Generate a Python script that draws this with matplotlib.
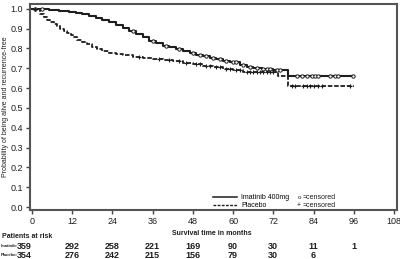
import numpy as np
import matplotlib
matplotlib.use("Agg")
import matplotlib.pyplot as plt
from matplotlib.lines import Line2D

plt.rcParams["font.family"] = ["Liberation Sans", "DejaVu Sans"]

# Kaplan-Meier steps (months, survival)
ima_t = [0, 2, 5, 8, 11, 13, 15, 17, 19, 21, 23, 25, 27, 29, 31, 33, 35, 37,
         39, 41, 43, 45, 47, 49, 51, 53, 55, 57, 59, 62, 64, 66, 68.5, 72, 76.5]
ima_s = [1.0, 0.997, 0.993, 0.99, 0.986, 0.98, 0.973, 0.965, 0.955, 0.945,
         0.932, 0.918, 0.905, 0.89, 0.872, 0.856, 0.84, 0.826, 0.815, 0.805,
         0.795, 0.786, 0.777, 0.768, 0.76, 0.752, 0.745, 0.738, 0.73, 0.716,
         0.709, 0.704, 0.697, 0.69, 0.663]
ima_end = 96

pla_t = [0, 2.3, 3.5, 4.5, 5.5, 6.5, 7.5, 8.5, 9.5, 10.5, 11.5, 12.5, 13.5, 15,
         16.5, 18, 19.5, 21, 23, 25, 27, 30, 33, 36, 39, 42, 45, 48, 51, 54,
         57, 60, 63, 73.5, 76.5]
pla_s = [1.0, 0.975, 0.958, 0.945, 0.935, 0.925, 0.912, 0.9, 0.89, 0.878,
         0.868, 0.858, 0.845, 0.835, 0.822, 0.808, 0.795, 0.785, 0.778, 0.772,
         0.766, 0.758, 0.75, 0.745, 0.74, 0.735, 0.728, 0.72, 0.712, 0.705,
         0.698, 0.692, 0.683, 0.66, 0.613]
pla_end = 96

# censoring times
ima_cens = [1, 3, 30, 36, 40, 44, 48, 50, 52, 54, 56, 58, 60, 61, 63, 65, 67,
            69, 70, 71, 73, 74, 79, 80.7, 82, 83.6, 84.5, 85.4, 89, 90.5, 91.4, 95.8]
pla_cens = [1, 32, 38, 41, 44, 46, 49, 50, 52, 53, 55, 56, 58, 59, 61, 62, 64,
            65, 66, 67, 68, 69, 70, 71, 72, 77.7, 78.6, 81, 82, 83, 84, 85.4,
            86.6, 95]

x_ticks = [0, 12, 24, 36, 48, 60, 72, 84, 96, 108]
y_ticks = [0.0, 0.1, 0.2, 0.3, 0.4, 0.5, 0.6, 0.7, 0.8, 0.9, 1.0]

risk_months = [0, 12, 24, 36, 48, 60, 72, 84, 96]
risk_ima = [359, 292, 258, 221, 169, 90, 30, 11, 1]
risk_pla = [354, 276, 242, 215, 156, 79, 30, 6]


def step_value(times, surv, t):
    i = np.searchsorted(times, t, side="right") - 1
    return surv[i]


fig = plt.figure(figsize=(4.0, 2.59), dpi=100)
ax = fig.add_axes([0.075, 0.189, 0.9175, 0.796])

ink = "#1e1e1e"

ax.step(ima_t + [ima_end], ima_s + [ima_s[-1]], where="post",
        color=ink, lw=1.5)
ax.step(pla_t + [pla_end], pla_s + [pla_s[-1]], where="post",
        color=ink, lw=1.3, ls=(0, (2.5, 1.0)))

ima_cy = [step_value(ima_t, ima_s, t) for t in ima_cens]
pla_cy = [step_value(pla_t, pla_s, t) for t in pla_cens]
ax.plot(ima_cens, ima_cy, ls="none", marker="o", ms=2.4, mfc="white",
        mec=ink, mew=0.7)
ax.plot(pla_cens, pla_cy, ls="none", marker="+", ms=3, mec=ink, mew=0.8)

ax.set_xlim(-0.6, 108.9)
ax.set_ylim(-0.015, 1.025)
ax.set_xticks(x_ticks)
ax.set_yticks(y_ticks)
ax.set_yticklabels([f"{v:.1f}" for v in y_ticks])
ax.tick_params(labelsize=6.5, length=3, width=1, color="#444444",
               labelcolor=ink, pad=2)
for sp in ax.spines.values():
    sp.set_color("#555555")
    sp.set_linewidth(1.5)

ax.set_ylabel("Probability of being alive and recurrence-free", fontsize=5,
              color=ink)
ax.yaxis.set_label_coords(-0.058, 0.5)

# legend
h1 = Line2D([], [], color=ink, lw=1.1)
h2 = Line2D([], [], color=ink, lw=1.0, ls=(0, (2, 1)))
fig.legend([h1, h2], ["Imatinib 400mg", "Placebo"], fontsize=5,
           frameon=False, handlelength=3.4, handletextpad=0.6,
           labelspacing=0.15, loc="upper left",
           bbox_to_anchor=(0.525, 0.263), borderpad=0)
fig.text(0.748, 0.236, "o", fontsize=4.5, color=ink, va="center", ha="center")
fig.text(0.748, 0.205, "+", fontsize=5, color=ink, va="center", ha="center")
fig.text(0.757, 0.238, "=censored", fontsize=5, color=ink, va="center")
fig.text(0.757, 0.207, "=censored", fontsize=5, color=ink, va="center")

# x title and risk table
fig.text(0.53, 0.100, "Survival time in months", fontsize=5, color=ink,
         ha="center", va="center", weight="bold")
fig.text(0.005, 0.088, "Patients at risk", fontsize=5, color=ink,
         va="center", weight="bold")
fig.text(0.002, 0.050, "Imatinib:", fontsize=3.0, color=ink, va="center",
         weight="bold")
fig.text(0.002, 0.015, "Placebo:", fontsize=3.0, color=ink, va="center",
         weight="bold")

row_y = [0.050, 0.015]
for vals, yy in zip([risk_ima, risk_pla], row_y):
    for m, v in zip(risk_months, vals):
        if m == 0:
            fig.text(0.043, yy, str(v), fontsize=6.5, color=ink, va="center",
                     ha="left", weight="bold")
        else:
            xf = fig.transFigure.inverted().transform(
                ax.transData.transform((m, 0)))[0]
            fig.text(xf, yy, str(v), fontsize=6.5, color=ink, va="center",
                     ha="center", weight="bold")

fig.savefig("out.png", dpi=100)
